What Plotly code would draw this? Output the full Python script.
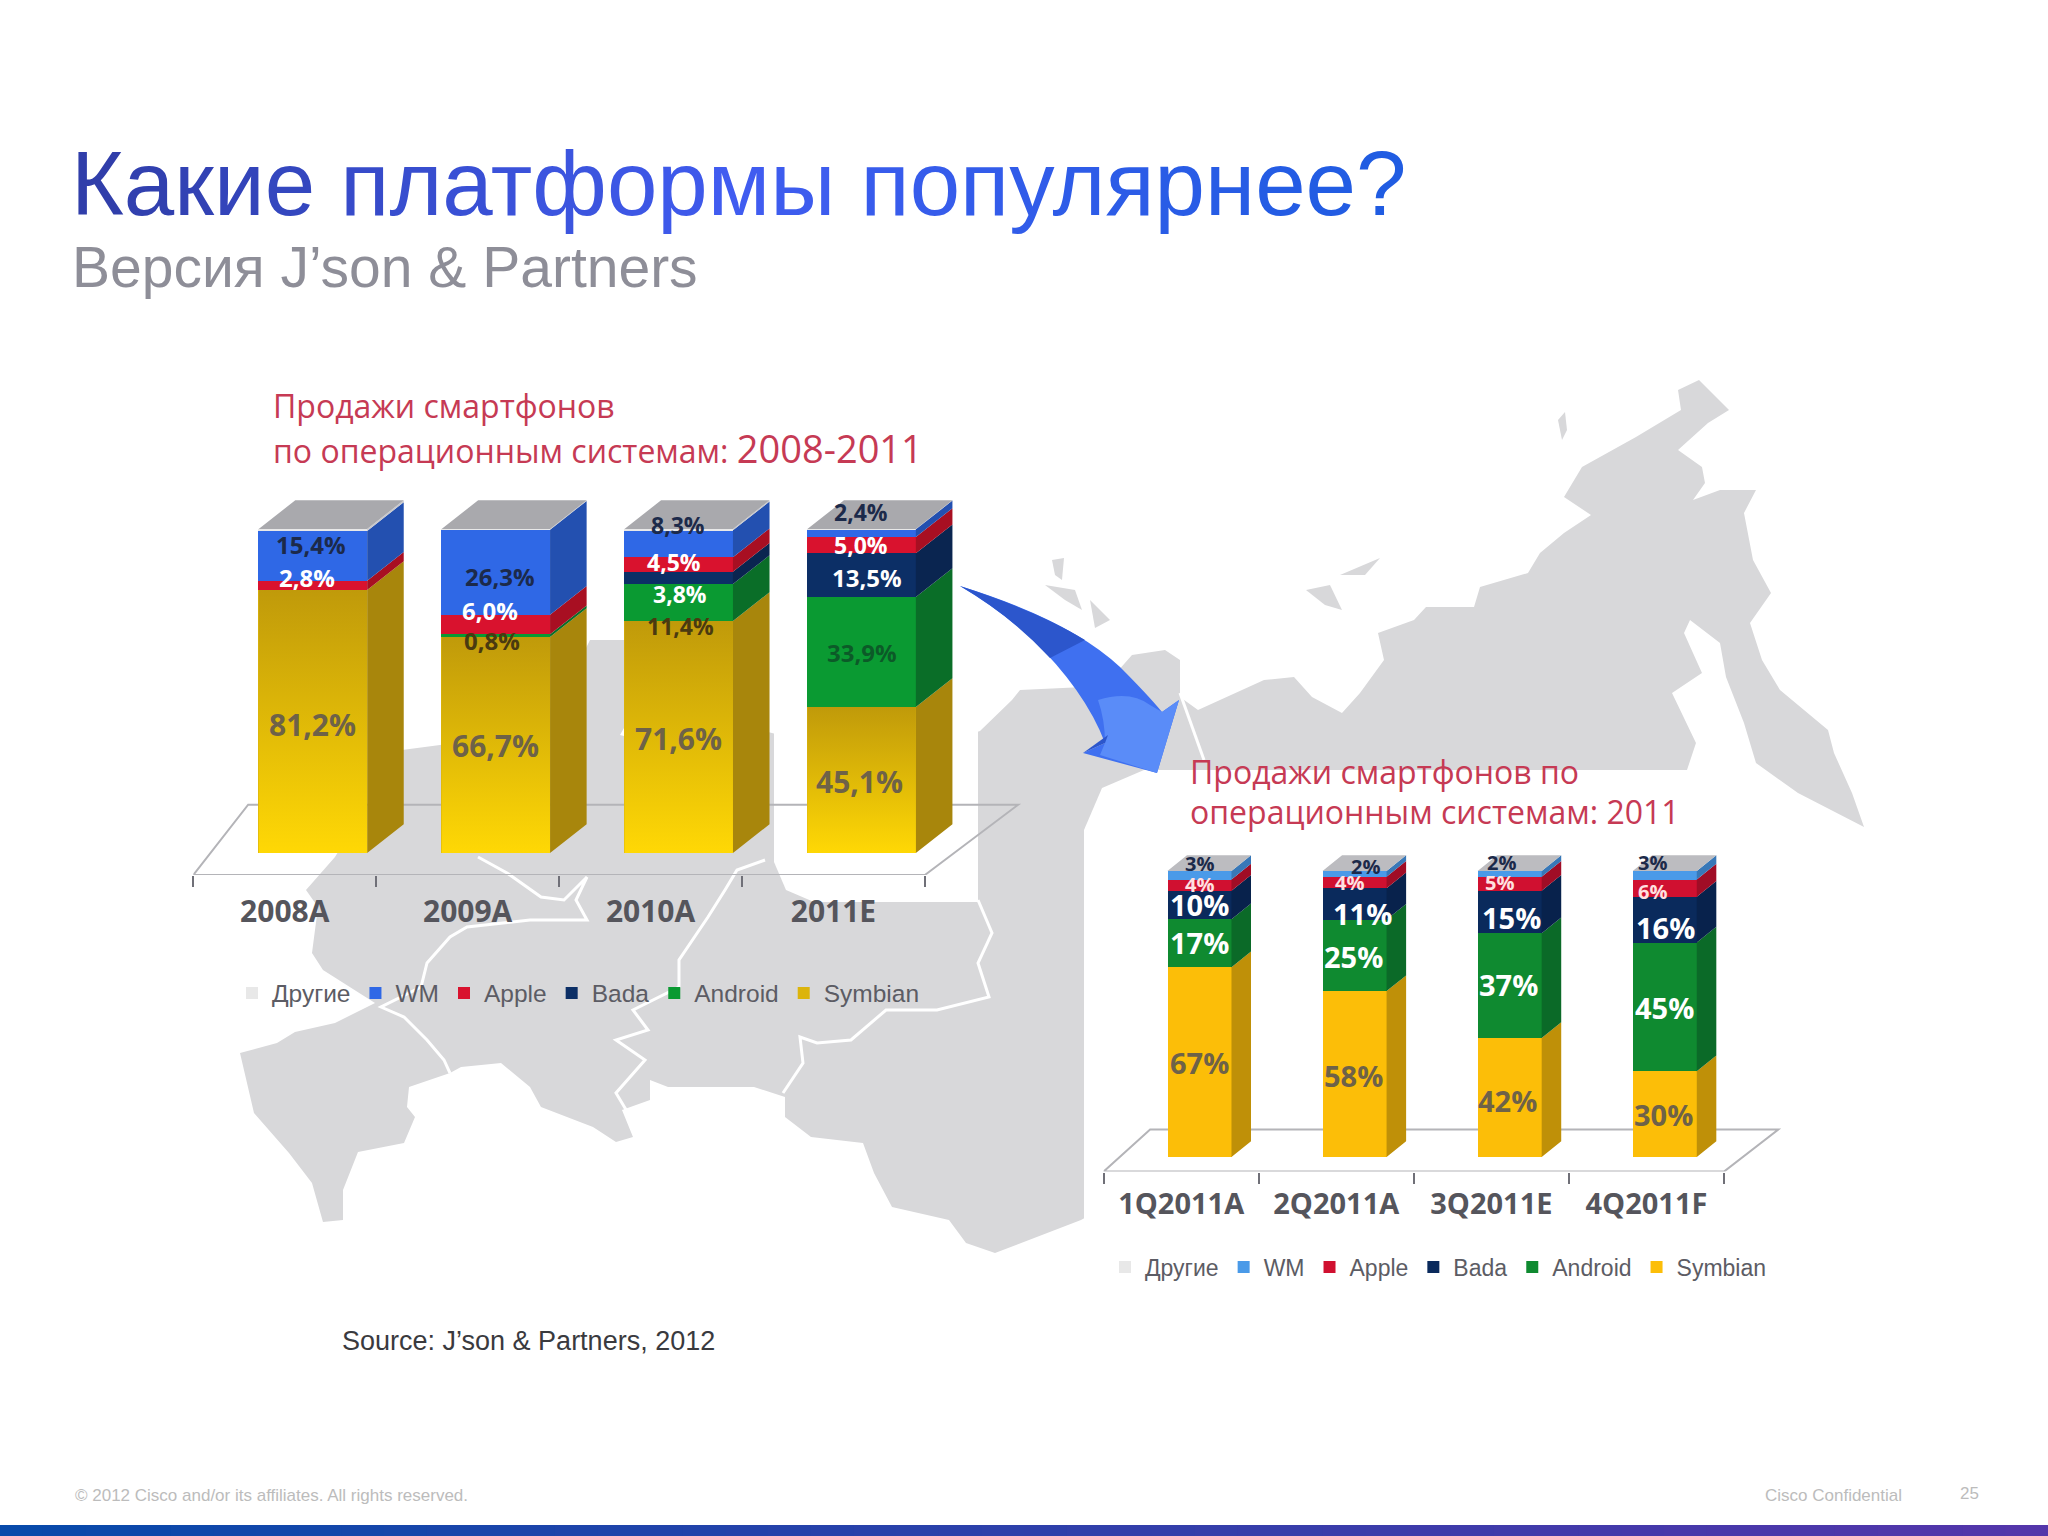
import numpy as np
import plotly.graph_objects as go

W, H = 2048, 1536

# ---------- data ----------
SERIES = ["Symbian", "Android", "Bada", "Apple", "WM", "Другие"]

YEARS = ["2008A", "2009A", "2010A", "2011E"]
Y_SYMBIAN = [81.2, 66.7, 71.6, 45.1]
Y_ANDROID = [0.0, 0.8, 11.4, 33.9]
Y_BADA = [0.0, 0.0, 3.8, 13.5]
Y_APPLE = [2.8, 6.0, 4.5, 5.0]
Y_WM = [15.4, 26.3, 8.3, 2.4]
Y_OTHER = [0.6, 0.2, 0.4, 0.1]

QUARTERS = ["1Q2011A", "2Q2011A", "3Q2011E", "4Q2011F"]
Q_SYMBIAN = [67, 58, 42, 30]
Q_ANDROID = [17, 25, 37, 45]
Q_BADA = [10, 11, 15, 16]
Q_APPLE = [4, 4, 5, 6]
Q_WM = [3, 2, 2, 3]
Q_OTHER = [0, 0, 0, 0]

# label text, colour key, pixel centre, size (labels sit where the source put them)
DARK, WHITE, GREY, BROWN, DGREEN = "#1c2a4a", "#ffffff", "#6e6248", "#4a3a10", "#0c5a28"
Y_LABELS = [
    ("15,4%", DARK, 311, 545, 24), ("2,8%", WHITE, 307, 577, 24), ("81,2%", GREY, 312, 724, 30),
    ("26,3%", DARK, 500, 576, 24), ("6,0%", WHITE, 490, 611, 24), ("0,8%", BROWN, 492, 641, 24),
    ("66,7%", GREY, 495, 746, 30),
    ("8,3%", DARK, 678, 525, 23), ("4,5%", WHITE, 674, 562, 23), ("3,8%", WHITE, 680, 594, 23),
    ("11,4%", BROWN, 680, 626, 23), ("71,6%", GREY, 678, 738, 30),
    ("2,4%", DARK, 861, 512, 23), ("5,0%", WHITE, 861, 545, 23), ("13,5%", WHITE, 867, 577, 24),
    ("33,9%", DGREEN, 862, 652, 24), ("45,1%", GREY, 859, 781, 30),
]
Q_LABELS = [
    ("3%", DARK, 1199, 863, 20), ("4%", "#ffe0e0", 1199, 884, 20), ("10%", WHITE, 1199, 904, 29),
    ("17%", WHITE, 1199, 942, 29), ("67%", GREY, 1199, 1062, 29),
    ("2%", DARK, 1365, 866, 20), ("4%", "#ffe0e0", 1349, 882, 20), ("11%", WHITE, 1362, 913, 29),
    ("25%", WHITE, 1353, 956, 29), ("58%", GREY, 1353, 1075, 29),
    ("2%", DARK, 1501, 862, 20), ("5%", "#ffe0e0", 1499, 882, 20), ("15%", WHITE, 1511, 917, 29),
    ("37%", WHITE, 1508, 984, 29), ("42%", GREY, 1507, 1100, 29),
    ("3%", DARK, 1652, 862, 20), ("6%", "#ffe0e0", 1652, 891, 20), ("16%", WHITE, 1665, 927, 29),
    ("45%", WHITE, 1664, 1007, 29), ("30%", GREY, 1663, 1114, 29),
]


def px(x):
    return x / W


def py(y):
    return 1 - y / H


# ---------- chart geometry (pixels of the 2048x1536 slide) ----------
LEFT = dict(x0=193.3, step=182.9, base=853, top=529, floor=875, right=1030, ceil=490,
            offset=0.154, width=0.593, dx=0.2, dy=8.87, back=(-0.2, 4.01), backy=14.9)
RIGHT = dict(x0=1103.6, step=155.1, base=1157, top=871, floor=1171.6, right=1800, ceil=845,
             offset=0.118, width=0.413, dx=0.126, dy=5.5, back=(-0.2, 3.85), backy=9.6)

FRONT_L = {"Symbian": "#dcb40c", "Android": "#0a9a32", "Bada": "#0c2f66", "Apple": "#d9122e",
           "WM": "#2f68e6", "Другие": "#e8e8e8"}
SIDE_L = {"Symbian": "#a8860c", "Android": "#0a6e28", "Bada": "#0a2550", "Apple": "#a80f22",
          "WM": "#2350b0", "Другие": "#c8c8cc"}
FRONT_R = {"Symbian": "#fcbe08", "Android": "#0f8a30", "Bada": "#0a2a5c", "Apple": "#d01030",
           "WM": "#4a9ae8", "Другие": "#e8e8e8"}
SIDE_R = {"Symbian": "#bf9008", "Android": "#0b6a28", "Bada": "#08224c", "Apple": "#a00d26",
          "WM": "#3878b8", "Другие": "#c8c8cc"}

fig = go.Figure()
shapes = []
annotations = []


def val_of(g, y_px):
    return (g["base"] - y_px) / (g["base"] - g["top"]) * 100


def chart(cats, values, g, front, side, xid, yid, legend, top_face, gradient):
    vals = np.array(values, dtype=float)
    norm = vals / vals.sum(axis=0) * 100
    cum = np.vstack([np.zeros(len(cats)), np.cumsum(norm, axis=0)])
    centers = np.arange(len(cats)) + g["offset"]
    xl, xr = centers - g["width"] / 2, centers + g["width"] / 2
    for s, name in enumerate(SERIES):
        fig.add_trace(go.Bar(x=centers, y=vals[s], width=g["width"], name=name, xaxis=xid, yaxis=yid,
                             marker=dict(color=front[name], line=dict(width=0)), legend=legend,
                             hoverinfo="skip"))
    # side faces computed from the stacked values
    for s, name in enumerate(SERIES):
        xs, ys = [], []
        for i in range(len(cats)):
            a, b = cum[s][i], cum[s + 1][i]
            if b - a <= 0:
                continue
            xs += [xr[i], xr[i], xr[i] + g["dx"], xr[i] + g["dx"], xr[i], None]
            ys += [a, b, b + g["dy"], a + g["dy"], a, None]
        fig.add_trace(go.Scatter(x=xs, y=ys, mode="lines", fill="toself", fillcolor=side[name],
                                 line=dict(width=0), showlegend=False, hoverinfo="skip",
                                 xaxis=xid, yaxis=yid))
    # top faces
    xs, ys = [], []
    for i in range(len(cats)):
        t = cum[-1][i]
        xs += [xl[i], xr[i], xr[i] + g["dx"], xl[i] + g["dx"], xl[i], None]
        ys += [t, t, t + g["dy"], t + g["dy"], t, None]
    fig.add_trace(go.Scatter(x=xs, y=ys, mode="lines", fill="toself", fillcolor=top_face,
                             line=dict(width=0), showlegend=False, hoverinfo="skip",
                             xaxis=xid, yaxis=yid))
    if gradient:
        for i in range(len(cats)):
            t = cum[1][i]
            fig.add_trace(go.Scatter(
                x=[xl[i], xr[i], xr[i], xl[i], xl[i]], y=[0, 0, t, t, 0], mode="lines", fill="toself",
                fillgradient=dict(type="vertical", colorscale=[[0, gradient[0]], [1, gradient[1]]]),
                line=dict(width=0), showlegend=False, hoverinfo="skip", xaxis=xid, yaxis=yid))
    # floor
    n = len(cats)
    fy, by = val_of(g, g["floor"]), g["backy"]
    shapes.append(dict(type="path", xref=xid, yref=yid, layer="below",
                       path=f"M-0.5,{fy} L{n-0.5},{fy} L{g['back'][1]},{by} L{g['back'][0]},{by} Z",
                       line=dict(color="#b4b4b8", width=2), fillcolor="rgba(0,0,0,0)"))


def axes(g, cats, size, standoff):
    n = len(cats)
    xr = [-0.5, -0.5 + (g["right"] - g["x0"]) / g["step"]]
    yr = [val_of(g, g["floor"]), val_of(g, g["ceil"])]
    x = dict(domain=[px(g["x0"]), px(g["right"])], range=xr, tickmode="array",
             tickvals=list(range(n)), ticktext=cats, ticks="", showgrid=False, zeroline=False,
             showline=False, fixedrange=True, ticklabelstandoff=standoff,
             tickfont=dict(family="Open Sans", size=size, color="#55555c", weight="bold"),
             minor=dict(tickmode="array", tickvals=[i - 0.5 for i in range(n + 1)], ticks="outside",
                        ticklen=11, tickwidth=1.5, tickcolor="#707078", showgrid=False))
    y = dict(domain=[py(g["floor"]), py(g["ceil"])], range=yr, visible=False, fixedrange=True)
    return x, y


# ---------- decorative slide art ----------
GREY_MAP = "#d8d8da"
MAP_POINTS = [
    (335, 857), (370, 800), (402, 750), (440, 745), (470, 740), (500, 750), (560, 700), (590, 640),
    (625, 640), (640, 700), (620, 735), (660, 745), (700, 740), (760, 730), (820, 745), (860, 770),
    (980, 731), (1012, 700), (1020, 690), (1084, 687), (1110, 680), (1132, 655), (1165, 650),
    (1180, 660), (1180, 697), (1198, 710), (1264, 680), (1294, 677), (1312, 697), (1342, 713),
    (1360, 693), (1384, 660), (1378, 633), (1414, 620), (1426, 607), (1474, 607), (1480, 587),
    (1528, 573), (1540, 553), (1564, 533), (1591, 515), (1564, 497), (1582, 467), (1636, 437),
    (1681, 410), (1678, 390), (1699, 380), (1729, 410), (1708, 423), (1678, 450), (1702, 467),
    (1705, 483), (1693, 500), (1720, 490), (1756, 490), (1744, 513), (1753, 560), (1771, 593),
    (1750, 623), (1762, 660), (1780, 690), (1828, 730), (1834, 753), (1852, 793), (1864, 827),
    (1798, 793), (1756, 763), (1744, 723), (1726, 677), (1720, 643), (1690, 620), (1684, 633),
    (1702, 673), (1672, 693), (1696, 743), (1687, 770), (1687, 800), (1400, 800), (1400, 1100),
    (1090, 1100), (1090, 1215), (1081, 1220), (995, 1253), (966, 1243), (949, 1220), (892, 1207),
    (874, 1173), (863, 1143), (811, 1137), (785, 1117), (785, 1097), (754, 1087), (668, 1087),
    (650, 1080), (650, 1100), (622, 1110), (633, 1137), (616, 1142), (593, 1127), (541, 1107),
    (530, 1087), (501, 1063), (461, 1067), (450, 1073), (409, 1087), (407, 1107), (415, 1117),
    (404, 1143), (358, 1152), (343, 1190), (343, 1220), (323, 1222), (312, 1183), (289, 1153),
    (254, 1113), (240, 1053), (277, 1043), (295, 1032), (335, 1023), (375, 1003), (323, 970),
    (312, 953), (318, 907), (306, 890),
]
ISLANDS = [
    [(1052, 560), (1064, 558), (1062, 580), (1055, 575)],
    [(1045, 585), (1075, 590), (1082, 610), (1065, 600)],
    [(1090, 600), (1110, 620), (1095, 628)],
    [(1306, 590), (1330, 585), (1342, 610), (1325, 605)],
    [(1340, 575), (1380, 558), (1365, 575)],
    [(1558, 420), (1565, 412), (1567, 430), (1562, 440)],
]
BORDERS = [
    [(478, 857), (507, 873), (541, 897), (564, 900), (587, 877), (576, 900), (587, 920), (530, 920),
     (467, 927), (450, 937), (427, 963), (421, 987), (381, 1007), (404, 1017), (427, 1040), (444, 1060),
     (450, 1073)],
    [(765, 860), (737, 870), (725, 890), (708, 917), (679, 960), (679, 987), (633, 1010), (648, 1030),
     (616, 1040), (645, 1060), (616, 1093), (628, 1113)],
    [(978, 900), (992, 933), (978, 963), (989, 997), (937, 1010), (886, 1010), (851, 1040), (817, 1043),
     (800, 1037), (803, 1063), (783, 1093)],
    [(1180, 693), (1204, 760)],
]


def poly(points, close=True):
    s = "M" + " L".join(f"{px(x):.5f},{py(y):.5f}" for x, y in points)
    return s + (" Z" if close else "")


def rounded_panel(x0, y0, x1, y1, r, tl=False, bl=False):
    pts = []
    if tl:
        pts += [(x0, y0 + r), (x0 + r * .3, y0 + r * .3), (x0 + r, y0)]
    else:
        pts += [(x0, y0)]
    pts += [(x1, y0), (x1, y1)]
    if bl:
        pts += [(x0 + r, y1), (x0 + r * .3, y1 - r * .3), (x0, y1 - r)]
    else:
        pts += [(x0, y1)]
    return poly(pts)


paper = dict(type="path", xref="paper", yref="paper", layer="below")
shapes.append(dict(paper, path=poly(MAP_POINTS), fillcolor=GREY_MAP, line=dict(width=0)))
for isl in ISLANDS:
    shapes.append(dict(paper, path=poly(isl), fillcolor=GREY_MAP, line=dict(width=0)))
for b in BORDERS:
    shapes.append(dict(paper, path=poly(b, close=False), fillcolor="rgba(0,0,0,0)",
                       line=dict(color="#ffffff", width=3)))
shapes.append(dict(paper, path=rounded_panel(774, 700, 978, 902, 40, bl=True), fillcolor="#ffffff",
                   line=dict(width=0)))
shapes.append(dict(paper, path=rounded_panel(1084, 770, 1700, 1310, 60, tl=True), fillcolor="#ffffff",
                   line=dict(width=0)))


def path_px(s):
    out = []
    for tok in s.split():
        cmd = tok[0] if tok[0].isalpha() else ""
        body = tok[1:] if cmd else tok
        if body:
            x, y = body.split(",")
            out.append(f"{cmd}{px(float(x)):.5f},{py(float(y)):.5f}")
        else:
            out.append(cmd)
    return " ".join(out)


ARROW = "M960,586 Q1070,620 1120,667 Q1148,695 1162,712 L1179,700 L1157,773 L1083,753 L1105,743 Q1085,690 1030,637 Q1000,610 960,586 Z"
ARROW_TAIL = "M960,586 Q1040,612 1085,640 L1050,658 Q1010,615 960,586 Z"
ARROW_LIGHT = "M1098,700 Q1130,690 1150,705 L1162,712 L1179,700 L1157,773 L1100,755 L1105,743 Q1105,720 1098,700 Z"
ARROW_BARB = "M1083,753 L1105,743 L1108,735 Z"

# footer bar
N_STRIP = 48
c0, c1 = np.array([8, 74, 170]), np.array([84, 54, 170])
for i in range(N_STRIP):
    c = c0 + (c1 - c0) * i / (N_STRIP - 1)
    shapes.append(dict(type="rect", xref="paper", yref="paper", layer="below",
                       x0=i / N_STRIP, x1=(i + 1) / N_STRIP + 0.001, y0=0, y1=py(1525),
                       fillcolor=f"rgb({int(c[0])},{int(c[1])},{int(c[2])})", line=dict(width=0)))

# ---------- charts ----------
chart(YEARS, [Y_SYMBIAN, Y_ANDROID, Y_BADA, Y_APPLE, Y_WM, Y_OTHER], LEFT, FRONT_L, SIDE_L, "x", "y",
      "legend", "#a9a9ad", ("#ffd805", "#c09a0a"))
chart(QUARTERS, [Q_SYMBIAN, Q_ANDROID, Q_BADA, Q_APPLE, Q_WM, Q_OTHER], RIGHT, FRONT_R, SIDE_R, "x2", "y2",
      "legend2", "#bcbcc0", None)
x1, y1 = axes(LEFT, YEARS, 30, 16)
x2, y2 = axes(RIGHT, QUARTERS, 29, 12)


def note(text, x, y, size, color, family="Liberation Sans", anchor="left", layer_y="middle"):
    annotations.append(dict(text=text, x=px(x), y=py(y), xref="paper", yref="paper", xanchor=anchor,
                            yanchor=layer_y, showarrow=False, align="left",
                            font=dict(family=family, size=size, color=color)))


def gradient_text(text, stops):
    out = []
    n = len(text) - 1
    for i, ch in enumerate(text):
        t = i / n * (len(stops) - 1)
        k = min(int(t), len(stops) - 2)
        f = t - k
        c = [int(stops[k][j] + (stops[k + 1][j] - stops[k][j]) * f) for j in range(3)]
        out.append(f'<span style="color:rgb({c[0]},{c[1]},{c[2]})">{ch}</span>' if ch != " " else " ")
    return "".join(out)


note(gradient_text("Какие платформы популярнее?", [(48, 62, 170), (64, 92, 240), (32, 92, 226)]),
     69, 184, 90.7, "#3050d0")
note("Версия J’son &amp; Partners", 70, 267, 57, "#8e8e98")
RED = "#c63a54"
note("Продажи смартфонов", 271, 405, 32, RED, "Open Sans")
note('по операционным системам: <span style="font-size:38px">2008-2011</span>', 271, 448, 32, RED, "Open Sans")
note("Продажи смартфонов по", 1188, 771, 32, RED, "Open Sans")
note("операционным системам: 2011", 1188, 811, 32, RED, "Open Sans")
note("Source: J’son &amp; Partners, 2012", 340, 1341, 27, "#3a3a3e", "Liberation Sans")
note("© 2012 Cisco and/or its affiliates. All rights reserved.", 73, 1495, 17, "#bcbcbc")
note("Cisco Confidential", 1763, 1495, 17, "#bcbcbc")
note("25", 1958, 1493, 17, "#bcbcbc")

for labels in (Y_LABELS, Q_LABELS):
    for text, color, x, y, size in labels:
        annotations.append(dict(text=f"<b>{text}</b>", x=px(x), y=py(y), xref="paper", yref="paper",
                                showarrow=False, xanchor="center", yanchor="middle",
                                font=dict(family="Open Sans", size=size, color=color)))

arrow_top = dict(type="path", xref="paper", yref="paper", layer="above", line=dict(width=0))
shapes_top = [
    dict(arrow_top, path=path_px(ARROW), fillcolor="#3f70f0"),
    dict(arrow_top, path=path_px(ARROW_TAIL), fillcolor="#2c56cc"),
    dict(arrow_top, path=path_px(ARROW_LIGHT), fillcolor="#5a8cf8"),
    dict(arrow_top, path=path_px(ARROW_BARB), fillcolor="#2c56cc"),
]

legend_base = dict(orientation="h", xanchor="left", yanchor="middle", traceorder="reversed",
                   bgcolor="rgba(0,0,0,0)", itemclick=False, itemdoubleclick=False)
fig.update_layout(
    width=W, height=H, autosize=False, margin=dict(l=0, r=0, t=0, b=0, pad=0),
    paper_bgcolor="#ffffff", plot_bgcolor="rgba(0,0,0,0)", barmode="stack", barnorm="percent",
    bargap=0, showlegend=True,
    xaxis=x1, yaxis=y1, xaxis2=dict(x2, anchor="y2"), yaxis2=dict(y2, anchor="x2"),
    legend=dict(legend_base, x=px(232), y=py(993),
                font=dict(family="Liberation Sans", size=24.5, color="#5c5c64")),
    legend2=dict(legend_base, x=px(1105), y=py(1267),
                 font=dict(family="Liberation Sans", size=23, color="#5c5c64")),
    shapes=shapes + shapes_top, annotations=annotations,
)
fig.write_html("out.html", config={"displayModeBar": False}, post_script="document.body.style.margin='0';")
